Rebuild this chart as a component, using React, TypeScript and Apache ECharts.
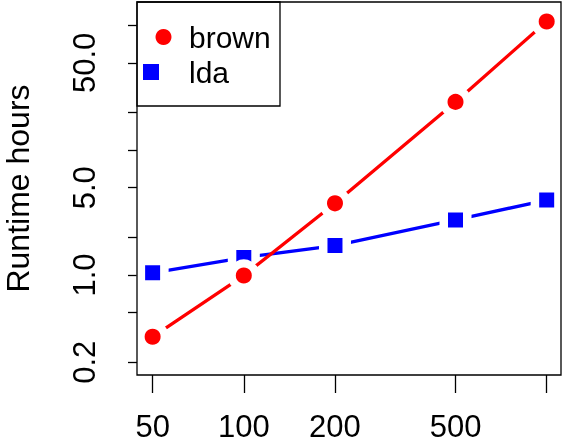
import React, { useEffect, useRef } from "react";
import * as echarts from "echarts";

const nodes = [50, 100, 200, 500, 1000];
const brownHours = [0.32, 0.99, 3.75, 24.3, 107];
const ldaHours = [1.04, 1.38, 1.72, 2.76, 3.98];
const xTickValues = [50, 100, 200, 500, 1000];
const xLabelValues = [50, 100, 200, 500];
const yTickValues = [0.2, 0.5, 1, 2, 5, 10, 20, 50, 100];
const yLabelValues = [0.2, 1, 5, 50];
const seriesNames = ["brown", "lda"];

const FONT = "'Liberation Sans', Arial, sans-serif";

const GRID = { left: 137, right: 1, top: 2, bottom: 68 };
const W = 562;
const H = 443;

export default function App() {
  const ref = useRef<HTMLDivElement>(null);
  useEffect(() => {
    if (!ref.current) return;
    const chart = echarts.init(ref.current, undefined, { renderer: "svg" });
    chart.setOption({
      animation: false,
      textStyle: { fontFamily: FONT },
      graphic: [
        {
          type: "rect",
          z: 0,
          shape: { x: 137, y: 2, width: 143, height: 104 },
          style: { fill: "#fff", stroke: "#000", lineWidth: 1.3 },
        },
        {
          type: "rect",
          z: 20,
          silent: true,
          shape: {
            x: GRID.left,
            y: GRID.top,
            width: W - GRID.left - GRID.right,
            height: H - GRID.top - GRID.bottom,
          },
          style: { fill: "none", stroke: "#000", lineWidth: 1.3 },
        },
      ],
      legend: {
        orient: "vertical",
        left: 143,
        top: 22,
        padding: 0,
        itemGap: 5,
        itemWidth: 41,
        itemHeight: 16,
        itemStyle: { borderWidth: 0 },
        textStyle: { fontSize: 30, color: "#000", fontFamily: FONT },
        data: [
          { name: seriesNames[0], icon: "circle" },
          { name: seriesNames[1], icon: "square" },
        ],
        selectedMode: false,
      },
      grid: {
        ...GRID,
        containLabel: false,
        outerBoundsMode: "none",
        show: false,
      },
      xAxis: {
        type: "log",
        logBase: 10,
        min: 44.4,
        max: 1115,
        axisLine: { show: false },
        splitLine: { show: false },
        axisTick: {
          show: true,
          length: 18,
          customValues: xTickValues,
          lineStyle: { color: "#000", width: 1.3 },
        },
        axisLabel: {
          customValues: xLabelValues,
          fontSize: 31,
          color: "#000",
          margin: 36,
          fontFamily: FONT,
          formatter: (v: number) => String(v),
        },
      },
      yAxis: {
        type: "log",
        logBase: 10,
        min: 0.1582,
        max: 153.4,
        name: "Runtime hours",
        nameLocation: "middle",
        nameGap: 103,
        nameTextStyle: { fontSize: 32, color: "#000", fontFamily: FONT },
        axisLine: { show: false },
        splitLine: { show: false },
        axisTick: {
          show: true,
          length: 9,
          customValues: yTickValues,
          lineStyle: { color: "#000", width: 1.3 },
        },
        axisLabel: {
          customValues: yLabelValues,
          rotate: 90,
          fontSize: 31,
          color: "#000",
          margin: 37,
          fontFamily: FONT,
          formatter: (v: number) => Number(v).toFixed(1),
        },
      },
      series: [
        {
          name: seriesNames[1],
          type: "line",
          data: nodes.map((x, i) => [x, ldaHours[i]]),
          symbol: "rect",
          symbolSize: 23.5,
          itemStyle: { color: "#0000ff", borderColor: "#fff", borderWidth: 8.5 },
          lineStyle: { color: "#0000ff", width: 3.3 },
          emphasis: { disabled: true },
          z: 2,
        },
        {
          name: seriesNames[0],
          type: "line",
          data: nodes.map((x, i) => [x, brownHours[i]]),
          symbol: "circle",
          symbolSize: 24,
          itemStyle: { color: "#ff0000", borderColor: "#fff", borderWidth: 8 },
          lineStyle: { color: "#ff0000", width: 3.3 },
          emphasis: { disabled: true },
          z: 3,
        },
      ],
    });
    return () => chart.dispose();
  }, []);
  return (
    <div
      ref={ref}
      style={{ position: "fixed", left: 0, top: 0, width: W, height: H }}
    />
  );
}
